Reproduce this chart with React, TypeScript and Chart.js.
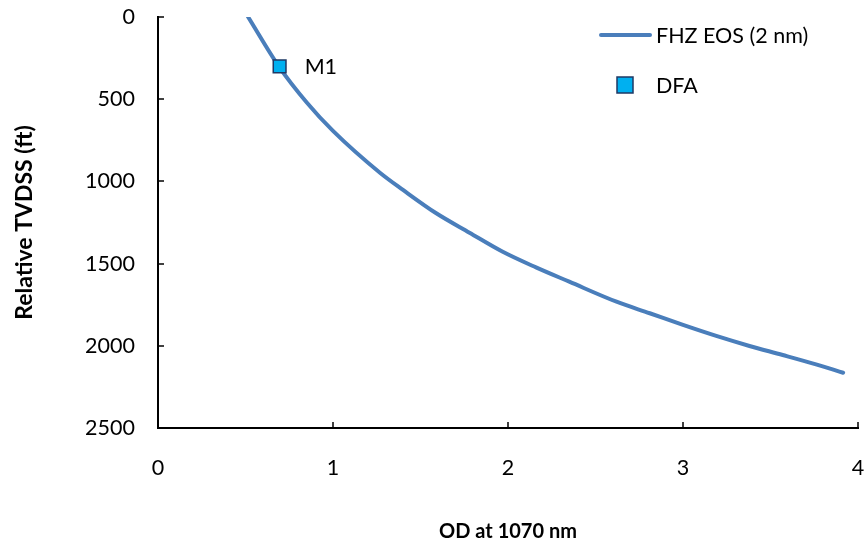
import React, { useEffect, useRef } from "react";
import { Chart, registerables } from "chart.js";

Chart.register(...registerables);

// FHZ EOS (2 nm) curve: OD at 1070 nm vs relative TVDSS (ft)
const eosOD = [0.515, 0.69, 0.85, 1.0, 1.27, 1.4, 1.59, 1.78, 1.97, 2.16, 2.35, 2.62, 2.81, 3.0, 3.19, 3.38, 3.57, 3.76, 3.915];
const eosTVDSS = [0, 300, 520, 693, 949, 1052, 1194, 1312, 1428, 1523, 1610, 1732, 1802, 1873, 1940, 2001, 2056, 2113, 2164];

// DFA measurement
const dfaOD = [0.695];
const dfaTVDSS = [300];
const dfaLabels = ["M1"];

const xTicks = [0, 1, 2, 3, 4];
const yTicks = [0, 500, 1000, 1500, 2000, 2500];

const seriesNames = ["FHZ EOS (2 nm)", "DFA"];
const xTitle = "OD at 1070 nm";
const yTitle = "Relative TVDSS (ft)";

const FONT = "Lato, 'Open Sans', sans-serif";
const TEXT_SIZE = 21.5;
const LINE_COLOR = "#4A7EBB";
const MARKER_FILL = "#00B0F0";
const MARKER_EDGE = "#1F3864";

export default function App() {
  const ref = useRef<HTMLCanvasElement>(null);

  useEffect(() => {
    if (!ref.current) return;

    const inwardTicks = {
      id: "inwardTicks",
      afterDraw(chart: any) {
        const ctx = chart.ctx;
        const xs = chart.scales.x;
        const ys = chart.scales.y;
        const area = chart.chartArea;
        ctx.save();
        ctx.strokeStyle = "#000";
        ctx.lineWidth = 1.5;
        xTicks.forEach((v) => {
          const px = Math.round(xs.getPixelForValue(v));
          ctx.beginPath();
          ctx.moveTo(px, area.bottom);
          ctx.lineTo(px, area.bottom - 6);
          ctx.stroke();
        });
        yTicks.forEach((v) => {
          const py = Math.round(ys.getPixelForValue(v));
          ctx.beginPath();
          ctx.moveTo(area.left, py);
          ctx.lineTo(area.left + 6, py);
          ctx.stroke();
        });
        ctx.restore();
      },
    };

    const pointLabels = {
      id: "pointLabels",
      afterDatasetsDraw(chart: any) {
        const ctx = chart.ctx;
        const meta = chart.getDatasetMeta(0);
        ctx.save();
        ctx.font = `${TEXT_SIZE}px ${FONT}`;
        ctx.fillStyle = "#000";
        ctx.textBaseline = "middle";
        ctx.textAlign = "left";
        meta.data.forEach((el: any, i: number) => {
          ctx.fillText(dfaLabels[i], el.x + 25, el.y + 1);
        });
        ctx.restore();
      },
    };

    const customLegend = {
      id: "customLegend",
      afterDraw(chart: any) {
        const ctx = chart.ctx;
        ctx.save();
        ctx.strokeStyle = LINE_COLOR;
        ctx.lineWidth = 4;
        ctx.lineCap = "round";
        ctx.beginPath();
        ctx.moveTo(601, 35);
        ctx.lineTo(650, 35);
        ctx.stroke();
        ctx.font = `${TEXT_SIZE}px ${FONT}`;
        ctx.fillStyle = "#000";
        ctx.textBaseline = "middle";
        ctx.textAlign = "left";
        ctx.fillText(seriesNames[0], 656, 36);
        ctx.fillStyle = MARKER_FILL;
        ctx.strokeStyle = MARKER_EDGE;
        ctx.lineWidth = 1.5;
        ctx.fillRect(617, 77, 16, 16);
        ctx.strokeRect(617, 77, 16, 16);
        ctx.fillStyle = "#000";
        ctx.fillText(seriesNames[1], 656, 86);
        ctx.restore();
      },
    };

    const chart = new Chart(ref.current, {
      type: "scatter",
      data: {
        datasets: [
          {
            label: seriesNames[1],
            data: dfaOD.map((x, i) => ({ x, y: dfaTVDSS[i] })),
            pointStyle: "rect",
            pointRadius: 9,
            backgroundColor: MARKER_FILL,
            borderColor: MARKER_EDGE,
            borderWidth: 1.5,
            showLine: false,
            order: 0,
          },
          {
            label: seriesNames[0],
            data: eosOD.map((x, i) => ({ x, y: eosTVDSS[i] })),
            showLine: true,
            borderColor: LINE_COLOR,
            borderWidth: 4,
            pointRadius: 0,
            cubicInterpolationMode: "monotone",
            borderCapStyle: "round",
            order: 1,
          } as any,
        ],
      },
      options: {
        animation: false,
        responsive: true,
        maintainAspectRatio: false,
        layout: { autoPadding: false, padding: { top: 17, right: 6, left: 0, bottom: 0 } },
        plugins: {
          legend: { display: false },
          tooltip: { enabled: false },
        },
        scales: {
          x: {
            type: "linear",
            min: 0,
            max: 4,
            afterBuildTicks: (s: any) => {
              s.ticks = xTicks.map((v) => ({ value: v }));
            },
            afterFit: (s: any) => {
              s.height = 118;
              s.paddingLeft = 0;
              s.paddingRight = 0;
            },
            grid: { display: true, drawOnChartArea: false, drawTicks: false },
            border: { display: true, color: "#000", width: 2 },
            ticks: {
              padding: 27,
              color: "#000",
              font: { family: FONT, size: TEXT_SIZE },
              maxRotation: 0,
              callback: (v: any) => String(v),
            },
            title: {
              display: true,
              text: xTitle,
              color: "#000",
              font: { family: FONT, size: 20, weight: "bold" },
              padding: { top: 0, bottom: 2 },
            },
          },
          y: {
            type: "linear",
            reverse: true,
            min: 0,
            max: 2500,
            afterBuildTicks: (s: any) => {
              s.ticks = yTicks.map((v) => ({ value: v }));
            },
            afterFit: (s: any) => {
              s.width = 158;
              s.paddingTop = 0;
              s.paddingBottom = 0;
            },
            grid: { display: true, drawOnChartArea: false, drawTicks: false },
            border: { display: true, color: "#000", width: 2 },
            ticks: {
              padding: 23,
              color: "#000",
              font: { family: FONT, size: TEXT_SIZE },
              callback: (v: any) => String(v),
            },
            title: {
              display: true,
              text: yTitle,
              color: "#000",
              font: { family: FONT, size: 23, weight: "bold" },
              padding: { top: 11, bottom: 0 },
            },
          },
        },
      },
      plugins: [inwardTicks, pointLabels, customLegend],
    });

    return () => chart.destroy();
  }, []);

  return (
    <div style={{ position: "absolute", left: 0, top: 0, width: 864, height: 546, background: "#fff" }}>
      <canvas ref={ref} />
    </div>
  );
}
